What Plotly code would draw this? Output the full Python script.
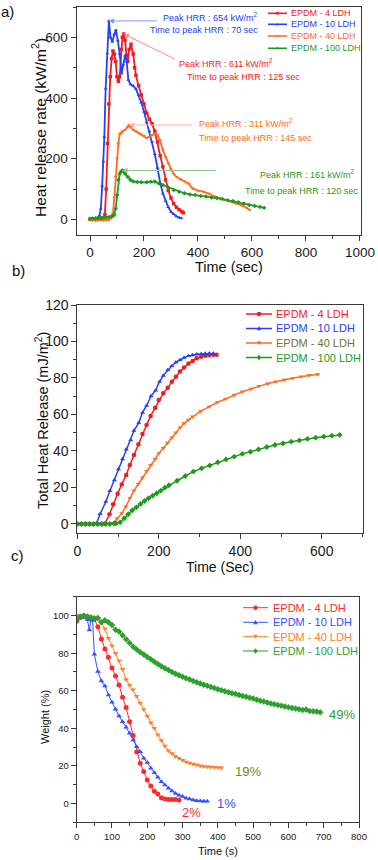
import plotly.graph_objects as go
import numpy as np

W, H = 378, 860
FONT = "Arial, Liberation Sans, sans-serif"

NAMES = ["EPDM - 4 LDH", "EPDM - 10 LDH", "EPDM - 40 LDH", "EPDM - 100 LDH"]

# ---------------- panel a : heat release rate (kW/m2) ----------------
hrr_t_4 = [0, 10, 20, 30, 40, 50, 55, 60, 65, 70, 75, 80, 85, 90, 95, 100, 105, 110, 115, 120, 125, 130, 135, 140, 145, 152,
           160, 165, 170, 180, 190, 200, 210, 220, 230, 240, 250, 260, 270, 280, 290, 300, 310, 320, 330, 340, 346]
hrr_v_4 = [0, 0, 1, 1, 2, 5, 15, 100, 250, 380, 470, 530, 555, 545, 520, 470, 455, 470, 560, 600, 611, 590, 540, 520, 560, 577,
           545, 500, 475, 440, 410, 380, 350, 330, 315, 290, 255, 210, 173, 130, 95, 70, 52, 40, 32, 26, 22]
hrr_t_10 = [0, 10, 20, 30, 35, 40, 45, 50, 53, 58, 64, 70, 76, 83, 90, 96, 103, 110, 117, 123, 130, 136, 142, 150, 160, 170,
            180, 190, 200, 210, 220, 230, 240, 250, 260, 270, 280, 290, 300, 310, 320, 330, 338]
hrr_v_10 = [2, 3, 4, 6, 12, 35, 110, 190, 272, 431, 547, 654, 600, 585, 610, 624, 590, 545, 480, 510, 540, 520, 460, 445, 440, 430,
            410, 385, 355, 320, 290, 255, 215, 170, 120, 85, 60, 40, 25, 17, 10, 6, 4]
hrr_t_40 = [0, 10, 20, 30, 40, 50, 60, 70, 80, 85, 90, 95, 100, 105, 110, 115, 120, 130, 140, 145, 150, 160, 170, 180, 190, 200,
            210, 220, 230, 240, 250, 260, 270, 280, 290, 300, 310, 320, 335, 350, 365, 380, 400, 420, 440, 460, 480, 500, 520,
            540, 560, 580, 592]
hrr_v_40 = [-3, -3, -4, -4, -3, -3, -3, -2, 5, 20, 70, 140, 200, 250, 280, 285, 290, 295, 305, 311, 305, 295, 290, 285, 280, 275,
            268, 272, 278, 283, 278, 260, 228, 205, 184, 165, 150, 140, 132, 126, 118, 102, 95, 91, 85, 76, 70, 64, 60,
            53, 47, 38, 31]
hrr_t_100 = [0, 10, 20, 30, 40, 50, 60, 70, 80, 85, 90, 95, 100, 105, 110, 115, 120, 125, 130, 140, 150, 160, 175, 190, 210, 225,
             240, 255, 270, 290, 310, 330, 350, 370, 390, 410, 430, 450, 470, 490, 510, 530, 550, 570, 590, 610, 630, 645]
hrr_v_100 = [2, 3, 3, 4, 4, 5, 6, 7, 10, 12, 15, 35, 80, 130, 150, 158, 161, 158, 150, 140, 130, 125, 123, 122, 122, 124,
             125, 118, 113, 105, 97, 91, 86, 82, 80, 77, 75, 72, 70, 67, 63, 60, 56, 52, 47, 44, 41, 38]

# ---------------- panel b : total heat release (mJ/m2) ----------------
thr_t_4 = [0, 10, 20, 30, 40, 50, 60, 68, 79, 88, 99, 109, 120, 129, 139, 150, 160, 170, 180, 191, 200, 211, 222, 232, 242, 252,
           262, 273, 283, 293, 304, 314, 324, 334, 342]
thr_v_4 = [0, 0, 0, 0, 0, 0, 0, 0.3, 5.3, 10.8, 16.6, 21.7, 26.8, 32.3, 37.8, 43.7, 49.3, 54.2, 59.2, 63.7, 67.9, 71.6, 74.7, 78,
           80.7, 83.5, 85.7, 87.9, 89.3, 90.8, 91.7, 92.2, 92.6, 92.8, 92.8]
thr_t_10 = [0, 10, 20, 30, 40, 47, 56, 70, 80, 91, 101, 111, 120, 131, 139, 151, 160, 170, 181, 192, 202, 211, 222, 232, 242,
            252, 262, 273, 283, 293, 304, 314, 324, 334]
thr_v_10 = [0, 0, 0, 0, 0, 0.4, 5.5, 12.2, 18.1, 24.1, 30.1, 35.6, 40.9, 46, 51.1, 55.5, 61, 64.8, 70.1, 73.2, 78, 81.3, 84.4,
            86.6, 88.6, 89.9, 91.1, 92.1, 92.6, 93, 93.2, 93.4, 93.5, 93.4]
thr_t_40 = [0, 10, 20, 30, 40, 50, 60, 70, 80, 88, 98, 109, 119, 129, 139, 150, 160, 170, 180, 191, 200, 211, 221, 232, 242, 252,
            262, 273, 283, 303, 324, 344, 364, 385, 405, 426, 446, 467, 487, 508, 528, 549, 569, 590]
thr_v_40 = [0, 0, 0, 0, 0, 0, 0, 0, 0, 0.5, 3.1, 5.8, 9.5, 14.1, 18.3, 21.9, 25.4, 29, 32.3, 35.6, 38.7, 41.5, 44.4, 47.3, 50,
            52.8, 55.2, 57, 58.8, 61.9, 64.3, 66.7, 68.5, 70.7, 72.5, 74, 75.6, 76.9, 78, 79.1, 79.8, 80.7, 81.5, 82]
thr_t_100 = [0, 10, 20, 30, 40, 50, 60, 70, 80, 90, 95, 105, 115, 125, 135, 145, 155, 165, 175, 185, 195, 205, 215, 225, 245,
             265, 285, 305, 325, 345, 365, 385, 405, 425, 445, 465, 485, 505, 525, 545, 565, 585, 605, 625, 644]
thr_v_100 = [0, 0, 0, 0, 0, 0, 0, 0, 0, 0.2, 0.4, 0.9, 3.1, 5.3, 7.5, 9.1, 11, 12.6, 14.1, 15.5, 16.8, 18.3, 19.9, 21.2, 23.7,
             26.3, 28.7, 30.5, 32.1, 33.8, 35.4, 36.9, 38.4, 39.6, 40.9, 42.2, 43.3, 44.2, 45.1, 45.8, 46.6, 47.3, 47.9, 48.4, 48.8]

# ---------------- panel c : weight (%) ----------------
wt_t_4 = [0, 10, 20, 30, 40, 50, 60, 70, 80, 90, 100, 110, 120, 130, 140, 150, 160, 170, 180, 190, 200, 210, 220, 230, 240,
          250, 260, 270, 280, 290]
wt_v_4 = [98, 99, 100, 99.5, 99, 98, 94.1, 87.6, 82.2, 77.8, 72.1, 67.9, 63.1, 56.5, 51, 43.5, 36.1, 27.4, 21.3, 16.9, 12.4,
          9.2, 6.4, 5, 3, 2.3, 2.1, 2.1, 2.1, 1.8]
wt_t_10 = [0, 10, 20, 30, 36, 40, 45, 50, 60, 70, 80, 90, 100, 110, 120, 130, 140, 150, 160, 170, 180, 190, 200, 210, 220, 230,
           240, 250, 260, 270, 280, 290, 300, 310, 320, 330, 340, 350, 360, 370]
wt_v_10 = [100, 99.5, 99, 98, 92.4, 97.7, 97.7, 79.4, 70.2, 65.2, 62.5, 57.7, 53.8, 50.1, 46.5, 43.5, 40.5, 37.3, 33.7, 30.2,
           27.5, 24, 21.7, 18.7, 16.3, 13.9, 11.5, 9.8, 8, 6.6, 5.3, 4.3, 3.6, 2.7, 2.3, 1.8, 1.4, 1.2, 1.1, 1.1]
wt_t_40 = [0, 10, 20, 30, 40, 50, 60, 70, 80, 90, 100, 110, 120, 130, 140, 150, 160, 170, 180, 190, 200, 210, 220, 230, 240,
           250, 260, 270, 280, 290, 300, 310, 320, 330, 340, 350, 360, 370, 380, 390, 400, 410]
wt_v_40 = [100, 100, 100, 99.5, 99.5, 99, 98.5, 96.5, 93, 88, 84, 80, 76, 71.5, 66, 63, 60.5, 57, 53.5, 50, 46.5, 43, 40, 36.5,
           33.5, 30.5, 28, 26.5, 25, 24, 23, 22, 21.5, 21, 20.5, 20, 19.8, 19.5, 19.3, 19.2, 19.1, 19]
wt_t_100 = [0, 10, 20, 30, 40, 50, 60, 70, 80, 90, 100, 110, 120, 130, 140, 150, 160, 170, 180, 190, 200, 210, 220, 230, 240,
            250, 260, 270, 280, 290, 300, 310, 320, 330, 340, 350, 360, 370, 380, 390, 400, 410, 420, 430, 440, 450, 460,
            470, 480, 490, 500, 510, 520, 530, 540, 550, 560, 570, 580, 590, 600, 610, 620, 630, 640, 650, 660, 670, 680, 690]
wt_v_100 = [97, 99.5, 100, 99.5, 99, 98.5, 98.7, 96.5, 97.5, 96.5, 95, 92.5, 91.5, 89.5, 87.5, 85.5, 83.5, 82, 80.5, 79.3, 78,
            76.8, 75.5, 74.3, 73, 72, 71, 70, 69, 68.2, 67.5, 66.7, 66, 65.2, 64.5, 63.8, 63.2, 62.6, 62, 61.4, 60.8, 60.2,
            59.7, 59.2, 58.7, 58.2, 57.7, 57.2, 56.8, 56.3, 55.8, 55.2, 54.7, 54.2, 53.7, 53.2, 52.8, 52.4, 52, 51.6, 51.2,
            50.8, 50.5, 50.1, 49.8, 50, 49.2, 49.1, 49, 48.5]

residue_labels = ["2%", "1%", "19%", "49%"]

C_A = ["#f01c24", "#2740f5", "#ff6d21", "#1f9a1f"]
C_C = ["#ff2a2a", "#3550ff", "#ff7f2a", "#2ea02e"]
SYM = ["square", "triangle-up", "triangle-down", "diamond"]
SYM_B = ["circle", "triangle-up", "triangle-down", "diamond"]


def px(x):
    return x / W


def py(y):
    return 1 - y / H


fig = go.Figure()
hrr = [(hrr_t_4, hrr_v_4), (hrr_t_10, hrr_v_10), (hrr_t_40, hrr_v_40), (hrr_t_100, hrr_v_100)]
thr = [(thr_t_4, thr_v_4), (thr_t_10, thr_v_10), (thr_t_40, thr_v_40), (thr_t_100, thr_v_100)]
wt = [(wt_t_4, wt_v_4), (wt_t_10, wt_v_10), (wt_t_40, wt_v_40), (wt_t_100, wt_v_100)]

for i, (t, v) in enumerate(hrr):
    fig.add_trace(go.Scatter(x=t, y=v, mode="lines+markers", name=NAMES[i], showlegend=False,
                             line=dict(color=C_A[i], width=1.8), marker=dict(symbol=SYM[i], size=3.5, color=C_A[i]),
                             xaxis="x", yaxis="y"))
for i, (t, v) in enumerate(thr):
    fig.add_trace(go.Scatter(x=t, y=v, mode="lines+markers", name=NAMES[i], showlegend=False,
                             line=dict(color=C_A[i], width=1.5), marker=dict(symbol=SYM_B[i], size=4.5, color=C_A[i]),
                             xaxis="x2", yaxis="y2"))
for i, (t, v) in enumerate(wt):
    fig.add_trace(go.Scatter(x=t, y=v, mode="lines+markers", name=NAMES[i], showlegend=False,
                             line=dict(color=C_C[i], width=1), marker=dict(symbol=SYM_B[i], size=5, color=C_C[i]),
                             xaxis="x3", yaxis="y3"))

AX_LINE = "#3a3a3a"


def axis(domain, rng, dtick, minor_dtick, size, **kw):
    d = dict(domain=domain, range=rng, dtick=dtick, tick0=0, showline=True, linecolor=AX_LINE, linewidth=1,
             mirror=True, ticks="outside", ticklen=5, tickwidth=1, tickcolor=AX_LINE,
             minor=dict(dtick=minor_dtick, ticks="outside", ticklen=3, tickcolor=AX_LINE, tick0=0),
             showgrid=False, zeroline=False, automargin=False,
             tickfont=dict(family=FONT, size=size, color="#1a1a1a"))
    d.update(kw)
    return d


XA_DOM = [76.5, 361.3]
XA_RNG = [-50, 1005]
YA_DOM = [234.5, 7.0]
YA_RNG = [-50, 700]

fig.update_layout(
    width=W, height=H, autosize=False,
    margin=dict(l=0, r=0, t=0, b=0, autoexpand=False),
    paper_bgcolor="white", plot_bgcolor="white", showlegend=False, font=dict(family=FONT),
    xaxis=axis([px(XA_DOM[0]), px(XA_DOM[1])], XA_RNG, 200, 100, 13.5, anchor="y"),
    yaxis=axis([py(YA_DOM[0]), py(YA_DOM[1])], YA_RNG, 200, 100, 13.5, anchor="x"),
    xaxis2=axis([px(77.3), px(362.5)], [0, 700], 200, 100, 14, anchor="y2"),
    yaxis2=axis([py(533.1), py(305)], [-5, 120], 20, 10, 14, anchor="x2"),
    xaxis3=axis([px(76.7), px(359)], [0, 800], 100, 50, 9.5, anchor="y3"),
    yaxis3=axis([py(822.1), py(596.9)], [-10, 110], 20, 10, 9.5, anchor="x3"),
)

ann = []
shapes = []


def text(x, y, s, size, color="#111", xanchor="center", angle=0):
    ann.append(dict(x=px(x), y=py(y), xref="paper", yref="paper", text=s, showarrow=False,
                    xanchor=xanchor, yanchor="middle", textangle=angle,
                    font=dict(family=FONT, size=size, color=color)))


# panel labels
text(7, 12, "a)", 15)
text(18, 270, "b)", 15)
text(17, 555, "c)", 15)

# axis titles
text(39, 128, "Heat release rate (kW/m<sup>2</sup>)", 15.5, angle=-90)
text(229, 267, "Time (sec)", 14.5)
text(42, 421, "Total Heat Release (mJ/m<sup>2</sup>)", 14.5, angle=-90)
text(220, 566.5, "Time (Sec)", 14)
text(45, 717, "Weight (%)", 11, angle=-90)
text(218, 851, "Time (s)", 11)

# panel a: thin pointer from each label to the series maximum, with a small arrowhead at the maximum
ux = (XA_DOM[1] - XA_DOM[0]) / (XA_RNG[1] - XA_RNG[0])
uy = (YA_DOM[0] - YA_DOM[1]) / (YA_RNG[1] - YA_RNG[0])
arrow_cols = ["#ff8a8a", "#8796ff", "#ffb4a8", "#8cc88c"]
tails = [(315, 528), (248, 654), (378, 311), (467, 161)]
for i, (t, v) in enumerate(hrr):
    k = int(np.argmax(v))
    hx, hy = t[k], v[k]
    tx, ty = tails[i]
    shapes.append(dict(type="line", xref="x", yref="y", x0=hx, y0=hy, x1=tx, y1=ty,
                       line=dict(color=arrow_cols[i], width=1)))
    dxp, dyp = (tx - hx) * ux, (ty - hy) * uy
    L = (dxp ** 2 + dyp ** 2) ** 0.5
    ex, ey = dxp / L, dyp / L
    a, b = 5.0, 2.2
    p1 = (hx + (a * ex - b * ey) / ux, hy + (a * ey + b * ex) / uy)
    p2 = (hx + (a * ex + b * ey) / ux, hy + (a * ey - b * ex) / uy)
    path = f"M {hx},{hy} L {p1[0]:.3f},{p1[1]:.3f} L {p2[0]:.3f},{p2[1]:.3f} Z"
    shapes.append(dict(type="path", xref="x", yref="y", path=path, fillcolor=arrow_cols[i],
                       line=dict(color=arrow_cols[i], width=0.5)))

text(260, 16.5, "Peak HRR : 654 kW/m<sup>2</sup>", 9, C_A[1], "right")
text(260, 30, "Time to peak HRR : 70 sec", 9, C_A[1], "right")
text(177, 62.5, "Peak HRR : 611 kW/m<sup>2</sup>", 9, C_A[0], "left")
text(185, 77, "Time to peak HRR : 125 sec", 9, C_A[0], "left")
text(197, 122.5, "Peak HRR : 311 kW/m<sup>2</sup>", 9, C_A[2], "left")
text(197, 138, "Time to peak HRR : 145 sec", 9, C_A[2], "left")
text(357, 174.5, "Peak HRR : 161 kW/m<sup>2</sup>", 9, C_A[3], "right")
text(360, 191, "Time to peak HRR : 120 sec", 9, C_A[3], "right")

# panel c residue labels
res_cols = [C_C[0], C_C[1], "#6b8a23", C_C[3]]
res_pos = [(180, 812), (215, 803), (233, 771), (327, 714)]
for i in range(4):
    text(res_pos[i][0], res_pos[i][1], residue_labels[i], 13, res_cols[i], "left")


# legends drawn as a sample line + marker + coloured text
def marker_shape(cx, cy, sym, r, col):
    if sym == "circle":
        shapes.append(dict(type="circle", xref="paper", yref="paper", x0=px(cx - r), x1=px(cx + r),
                           y0=py(cy + r), y1=py(cy - r), fillcolor=col, line=dict(width=0)))
    elif sym == "square":
        shapes.append(dict(type="rect", xref="paper", yref="paper", x0=px(cx - r), x1=px(cx + r),
                           y0=py(cy + r), y1=py(cy - r), fillcolor=col, line=dict(width=0)))
    else:
        if sym == "triangle-up":
            pts = [(cx - r, cy + r * 0.8), (cx + r, cy + r * 0.8), (cx, cy - r)]
        elif sym == "triangle-down":
            pts = [(cx - r, cy - r * 0.8), (cx + r, cy - r * 0.8), (cx, cy + r)]
        else:
            pts = [(cx - r, cy), (cx, cy - r * 1.2), (cx + r, cy), (cx, cy + r * 1.2)]
        path = "M " + " L ".join(f"{px(a):.5f},{py(b):.5f}" for a, b in pts) + " Z"
        shapes.append(dict(type="path", xref="paper", yref="paper", path=path, fillcolor=col, line=dict(width=0)))


def legend(x0, x1, xt, ys, size, cols, tcols, syms, r, lw):
    for i in range(4):
        shapes.append(dict(type="line", xref="paper", yref="paper", x0=px(x0), x1=px(x1), y0=py(ys[i]), y1=py(ys[i]),
                           line=dict(color=cols[i], width=lw)))
        marker_shape((x0 + x1) / 2, ys[i], syms[i], r, cols[i])
        text(xt, ys[i], NAMES[i], size, tcols[i], "left")


legend(268, 287, 288.5, [13.3, 24.3, 36, 48.3], 9, C_A, C_A, SYM, 1.3, 1.6)
legend(246, 272, 273.5, [314, 328.5, 343, 357.5], 11, C_A, [C_A[0], C_A[1], "#737332", C_A[3]], SYM_B, 2.2, 1.5)
legend(243, 268, 270.5, [607.7, 622.3, 636.7, 651], 11, C_C, C_C, SYM_B, 2.3, 1)

fig.update_layout(annotations=ann, shapes=shapes)
fig.write_html("out.html", config={"responsive": False, "displayModeBar": False},
               post_script="document.body.style.margin='0px';document.body.style.overflow='hidden';")
